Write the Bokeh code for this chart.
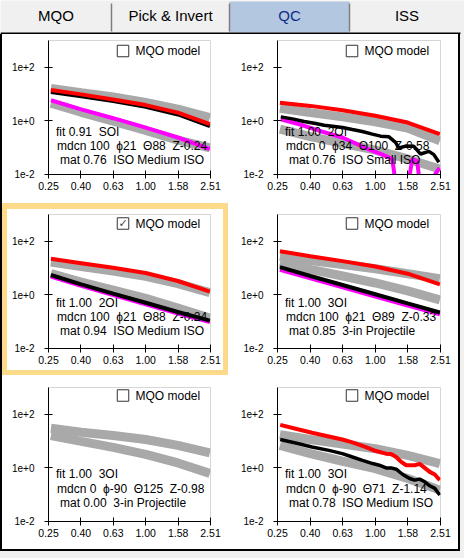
import math
from bokeh.plotting import figure
from bokeh.layouts import row, column
from bokeh.models import Range1d, FixedTicker, PrintfTickFormatter, Label, Spacer
from bokeh.core.properties import value
from bokeh.embed import file_html
from bokeh.resources import INLINE

FONT = "Liberation Sans"
GRAY = "#a9a9a9"
RED = "#ff0000"
BLACK = "#000000"
MAGENTA = "#ff00ff"
YELLOW = "#fdd98a"
WIN_BG = "#f0f0f0"
NB = "\u00a0"

# ---------------- data ----------------
TABS = ["MQO", "Pick & Invert", "QC", "ISS"]
TAB_EDGES = [0, 111, 229, 349, 464]
SELECTED_TAB = 2

X_TICKS = [0.25119, 0.39811, 0.63096, 1.0, 1.58489, 2.51188]
Y_TICKS = [0.01, 1.0, 100.0]
Y_TICK_LABELS = ["1e-2", "1e+0", "1e+2"]

FREQ = [0.26, 0.40, 0.63, 1.00, 1.58, 2.49]

# top-left
TL_GRAY_A = [16.2, 11.2, 7.76, 4.90, 2.75, 1.32]
TL_GRAY_B = [4.57, 2.09, 0.98, 0.44, 0.19, 0.098]
TL_MAGENTA = [5.89, 2.69, 1.26, 0.56, 0.24, 0.089]
TL_BLACK = [11.7, 8.13, 5.37, 3.31, 1.70, 0.63]
TL_RED = [14.1, 9.77, 6.31, 3.89, 2.04, 0.76]

# top-right
TR_GRAY_A = [2.95, 2.04, 1.41, 0.93, 0.54, 0.18]
TR_GRAY_B = [0.49, 0.26, 0.145, 0.081, 0.038, 0.016]
TR_RED = [4.79, 3.63, 2.51, 1.55, 0.87, 0.32]
TR_BLACK_F = [0.263, 0.310, 0.366, 0.431, 0.485, 0.546, 0.629, 0.723, 0.832, 0.959,
              1.078, 1.213, 1.331, 1.396, 1.534, 1.725, 1.896, 2.132, 2.287, 2.455]
TR_BLACK = [1.41, 1.19, 0.944, 0.796, 0.692, 0.636, 0.567, 0.478, 0.403, 0.321,
            0.270, 0.255, 0.158, 0.097, 0.115, 0.112, 0.058, 0.073, 0.055, 0.0286]
TR_MAGENTA_F = [0.263, 0.341, 0.452, 0.629, 0.873, 1.104, 1.271, 1.351, 1.571, 1.686,
                1.807, 1.896, 2.132, 2.339, 2.477]
TR_MAGENTA = [1.15, 0.75, 0.43, 0.24, 0.097, 0.055, 0.038, 0.0026, 0.0026, 0.038,
              0.031, 0.0026, 0.0026, 0.0106, 0.0177]

# middle-left (selected)
ML_GRAY_A = [16.7, 11.5, 7.74, 4.91, 2.63, 1.22]
ML_GRAY_B = [6.2, 3.0, 1.5, 0.74, 0.32, 0.137]
ML_MAGENTA = [4.80, 2.16, 0.975, 0.44, 0.199, 0.097]
ML_BLACK = [5.51, 2.48, 1.12, 0.51, 0.23, 0.109]
ML_RED = [22.2, 15.3, 10.3, 6.53, 3.30, 1.33]

# middle-right
MR_GRAY_A = [27.8, 19.2, 13.7, 9.44, 6.17, 4.03]
MR_GRAY_B = [15.8, 8.93, 5.06, 2.78, 1.41, 0.65]
MR_MAGENTA = [8.67, 4.14, 1.92, 0.87, 0.40, 0.19]
MR_BLACK = [10.9, 5.06, 2.34, 1.06, 0.48, 0.22]
MR_RED = [42.7, 27.8, 18.2, 11.5, 6.17, 2.48]

# bottom-left
BL_GRAY_A = [30.3, 21.5, 16.2, 11.5, 6.92, 3.60]
BL_GRAY_B = [16.2, 9.73, 5.82, 3.21, 1.53, 0.62]

# bottom-right
BR_GRAY_A = [17.2, 11.5, 7.74, 5.20, 2.94, 1.45]
BR_GRAY_B = [6.92, 3.40, 1.77, 0.94, 0.40, 0.149]
BR_RED_F = [0.261, 0.339, 0.409, 0.519, 0.628, 0.724, 0.876, 1.009, 1.164, 1.250,
            1.343, 1.442, 1.548, 1.743, 1.872, 2.010, 2.158, 2.317, 2.488]
BR_RED = [40.3, 27.0, 20.4, 14.9, 11.5, 8.93, 6.00, 4.26, 3.40, 3.30,
          2.55, 1.67, 1.26, 1.26, 1.41, 1.00, 0.711, 0.567, 0.349]
BR_BLACK_F = [0.261, 0.339, 0.409, 0.519, 0.628, 0.724, 0.835, 0.963, 1.058, 1.164,
              1.250, 1.343, 1.475, 1.623, 1.743, 1.872, 2.010, 2.158, 2.317, 2.488]
BR_BLACK = [11.5, 7.96, 6.00, 4.51, 3.40, 2.55, 1.92, 1.45, 1.26, 1.00,
            1.00, 0.893, 0.567, 0.403, 0.349, 0.380, 0.303, 0.215, 0.172, 0.097]

FIT_TEXT = ["fit 0.91  SOI", "fit 1.00  2OI", "fit 1.00  2OI",
            "fit 1.00  3OI", "fit 1.00  3OI", "fit 1.00  3OI"]
MDCN_TEXT = ["mdcn 100  \u03d521  \u039888  Z-0.24", "mdcn 0  \u03d534  \u0398100  Z-0.58",
             "mdcn 100  \u03d521  \u039888  Z-0.24", "mdcn 100  \u03d521  \u039889  Z-0.33",
             "mdcn 0  \u03d5-90  \u0398125  Z-0.98", "mdcn 0  \u03d5-90  \u039871  Z-1.14"]
MAT_TEXT = ["mat 0.76  ISO Medium ISO", "mat 0.76  ISO Small ISO", "mat 0.94  ISO Medium ISO",
            "mat 0.85  3-in Projectile", "mat 0.00  3-in Projectile", "mat 0.78  ISO Medium ISO"]
CHECKED = [False, False, True, False, False, False]
CHECK_LABEL = "MQO model"

# series per panel: (x, y, color, width)
PANEL_SERIES = [
    [(FREQ, TL_GRAY_A, GRAY, 9), (FREQ, TL_GRAY_B, GRAY, 9), (FREQ, TL_MAGENTA, MAGENTA, 4),
     (FREQ, TL_BLACK, BLACK, 3.5), (FREQ, TL_RED, RED, 4)],
    [(FREQ, TR_GRAY_A, GRAY, 9), (FREQ, TR_GRAY_B, GRAY, 9), (TR_MAGENTA_F, TR_MAGENTA, MAGENTA, 4),
     (TR_BLACK_F, TR_BLACK, BLACK, 3.5), (FREQ, TR_RED, RED, 4)],
    [(FREQ, ML_GRAY_A, GRAY, 9), (FREQ, ML_GRAY_B, GRAY, 9), (FREQ, ML_MAGENTA, MAGENTA, 4),
     (FREQ, ML_BLACK, BLACK, 4), (FREQ, ML_RED, RED, 4)],
    [(FREQ, MR_GRAY_A, GRAY, 9), (FREQ, MR_GRAY_B, GRAY, 9), (FREQ, MR_MAGENTA, MAGENTA, 4),
     (FREQ, MR_BLACK, BLACK, 4), (FREQ, MR_RED, RED, 4)],
    [(FREQ, BL_GRAY_A, GRAY, 9), (FREQ, BL_GRAY_B, GRAY, 9)],
    [(FREQ, BR_GRAY_A, GRAY, 9), (FREQ, BR_GRAY_B, GRAY, 9),
     (BR_BLACK_F, BR_BLACK, BLACK, 3.5), (BR_RED_F, BR_RED, RED, 4)],
]

# ---------------- layout helpers ----------------
X_LO, X_HI = 10 ** -0.6, 10 ** 0.4
Y_LO, Y_HI = 0.00999, 1000.0
FRAME_H = 134
TEXT_DY = [[91.5, 105, 119], [88.5, 102.5, 116.5], [86, 101.5, 115.5]]
TEXT_DX = [7.5, 8.5, 11.5]
CHECK_DY = [10.5, 9, 8]


def keep_spaces(s):
    # keep double spaces visible in SVG text
    return s.replace("  ", " " + NB)


def fx(dx, fw):
    return 10 ** (math.log10(X_LO) + (math.log10(X_HI) - math.log10(X_LO)) * dx / fw)


def fy(dy):
    return 10 ** (math.log10(Y_HI) - (math.log10(Y_HI) - math.log10(Y_LO)) * dy / FRAME_H)


def strip(w, h, color):
    return Spacer(width=w, height=h, styles={"background-color": color})


def make_header():
    p = figure(width=464, height=34, x_range=Range1d(0, 464), y_range=Range1d(34, 0),
               output_backend="svg", toolbar_location=None, min_border=0,
               x_axis_location=None, y_axis_location=None, title=None,
               background_fill_color=WIN_BG, border_fill_color=WIN_BG, outline_line_color=None)
    p.grid.visible = False
    lefts = TAB_EDGES[:-1]
    rights = TAB_EDGES[1:]
    centers = [(a + b) / 2 for a, b in zip(lefts, rights)]
    s = SELECTED_TAB
    p.quad(left=[lefts[s]], right=[rights[s]], top=[1], bottom=[32],
           fill_color="#b4c7e0", line_color=None)
    seps = TAB_EDGES[1:-1]
    p.segment(x0=seps, y0=[3] * len(seps), x1=seps, y1=[31] * len(seps),
              line_color="#7f7f7f", line_width=1.5)
    colors = ["#0d2c87" if i == s else "black" for i in range(len(TABS))]
    p.text(x=centers, y=[15] * len(TABS), text=TABS, text_align="center",
           text_baseline="middle", text_font=value(FONT), text_font_size=value("15px"),
           text_color=colors)
    p.quad(left=[0], right=[460], top=[32], bottom=[34], fill_color="black", line_color=None)
    return p


def make_panel(i, w, h, ml, mr, mt, mb):
    fw = w - ml - mr
    r = i // 2
    p = figure(width=w, height=h, x_axis_type="log", y_axis_type="log",
               x_range=Range1d(X_LO, X_HI), y_range=Range1d(Y_LO, Y_HI),
               output_backend="svg", toolbar_location=None, title=None,
               min_border_left=ml, min_border_right=mr, min_border_top=mt, min_border_bottom=mb,
               background_fill_color="white", border_fill_color="white",
               outline_line_color="#d6d6d6")
    p.grid.visible = False
    p.xaxis.ticker = FixedTicker(ticks=X_TICKS, minor_ticks=[])
    p.xaxis.formatter = PrintfTickFormatter(format="%.2f")
    p.yaxis.ticker = FixedTicker(ticks=Y_TICKS, minor_ticks=[])
    p.yaxis.major_label_overrides = dict(zip(Y_TICKS, Y_TICK_LABELS))
    for ax in (p.xaxis, p.yaxis):
        ax.axis_line_color = "black"
        ax.major_tick_line_color = "black"
        ax.major_tick_in = 4
        ax.major_tick_out = 4
        ax.minor_tick_line_color = None
        ax.major_label_text_font = FONT
        ax.major_label_text_color = "black"
    p.xaxis.major_label_text_font_size = "10.5px"
    p.yaxis.major_label_text_font_size = "10px"
    p.xaxis.major_label_standoff = 3
    p.yaxis.major_label_standoff = 10

    for xs, ys, color, lw in PANEL_SERIES[i]:
        p.line(xs, ys, line_color=color, line_width=lw)

    for txt, dx, dy in zip([FIT_TEXT[i], MDCN_TEXT[i], MAT_TEXT[i]], TEXT_DX, TEXT_DY[r]):
        p.add_layout(Label(x=fx(dx, fw), y=fy(dy), text=keep_spaces(txt), text_font=FONT,
                           text_font_size="12px", text_color="black",
                           text_baseline="alphabetic"))

    cy = fy(CHECK_DY[r])
    p.scatter(x=[fx(74.5, fw)], y=[cy], marker="square", size=11.5,
              fill_color="white", line_color="#333333", line_width=1)
    if CHECKED[i]:
        p.add_layout(Label(x=fx(74.5, fw), y=cy, text="\u2713", text_font="DejaVu Sans",
                           text_font_size="11px", text_color="#444444",
                           text_align="center", text_baseline="middle"))
    p.add_layout(Label(x=fx(87, fw), y=cy, text=CHECK_LABEL, text_font=FONT,
                       text_font_size="12px", text_color="black", text_baseline="middle"))
    return p


header = make_header()

tl = make_panel(0, 228, 169, 46, 20, 6, 29)
tr = make_panel(1, 228, 169, 47, 18, 6, 29)
ml_inner = make_panel(2, 216, 161, 41, 13, 5, 22)
mr = make_panel(3, 228, 172, 47, 18, 11, 27)
bl = make_panel(4, 228, 174, 46, 20, 12, 28)
br = make_panel(5, 228, 174, 47, 18, 12, 28)

ml = row(
    column(strip(226, 6, YELLOW),
           row(strip(5, 161, YELLOW), ml_inner, strip(5, 161, YELLOW)),
           strip(226, 5, YELLOW)),
    strip(2, 172, "white"),
)

left_col = column(tl, ml, bl)
right_col = column(tr, mr, br)
body = row(strip(2, 515, "black"), left_col, right_col,
           strip(2, 515, "black"), strip(4, 515, WIN_BG))
bottom = column(row(strip(460, 2, "black"), strip(4, 2, WIN_BG)), strip(464, 7, WIN_BG))

root = column(header, body, bottom)

open("out.html", "w").write(file_html(root, INLINE))
